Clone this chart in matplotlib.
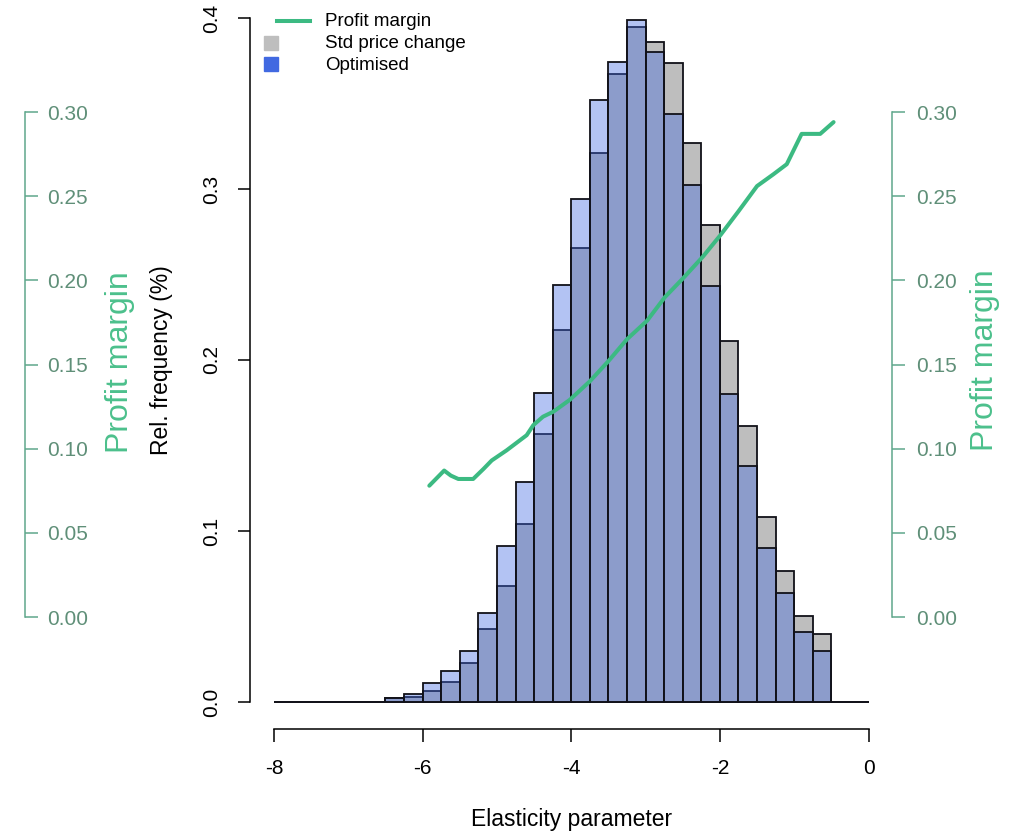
import matplotlib
matplotlib.use("Agg")
import matplotlib.pyplot as plt
import numpy as np
from matplotlib.lines import Line2D

plt.rcParams["font.family"] = ["Liberation Sans", "DejaVu Sans"]
plt.rcParams["axes.unicode_minus"] = False

# Histogram bins of the elasticity parameter (width 0.25, from -8 to 0)
bin_width = 0.25
bin_left = np.arange(-8.0, 0.0, bin_width)

# Relative frequency (density) per bin
std_price_change = [
    0, 0, 0, 0, 0, 0,
    0.0025, 0.0028, 0.0064, 0.0119, 0.0226, 0.0425, 0.068, 0.104,
    0.157, 0.2175, 0.2653, 0.321, 0.367, 0.3945, 0.386, 0.3735,
    0.3267, 0.2788, 0.2111, 0.1614, 0.1082, 0.0766, 0.0503, 0.0396,
    0, 0,
]
optimised = [
    0, 0, 0, 0, 0, 0,
    0.0025, 0.0047, 0.011, 0.018, 0.0298, 0.0519, 0.0912, 0.1286,
    0.1805, 0.2439, 0.294, 0.352, 0.3745, 0.3988, 0.380, 0.3437,
    0.3023, 0.2433, 0.180, 0.1382, 0.0902, 0.0635, 0.0411, 0.0298,
    0, 0,
]

# Profit margin against elasticity
margin_elasticity = [
    -5.91, -5.71, -5.62, -5.52, -5.32, -5.18, -5.07, -4.87, -4.69, -4.60,
    -4.51, -4.38, -4.24, -4.02, -3.75, -3.50, -3.25, -2.98, -2.74, -2.50,
    -2.23, -1.99, -1.75, -1.50, -1.28, -1.10, -0.90, -0.65, -0.47,
]
profit_margin = [
    0.078, 0.087, 0.084, 0.082, 0.082, 0.088, 0.093, 0.099, 0.105, 0.108,
    0.114, 0.119, 0.122, 0.129, 0.140, 0.152, 0.165, 0.176, 0.190, 0.201,
    0.214, 0.227, 0.241, 0.256, 0.263, 0.269, 0.287, 0.287, 0.294,
]

x_ticks = [-8, -6, -4, -2, 0]
x_tick_labels = ["-8", "-6", "-4", "-2", "0"]
y_ticks = [0.0, 0.1, 0.2, 0.3, 0.4]
y_tick_labels = ["0.0", "0.1", "0.2", "0.3", "0.4"]
pm_ticks = [0.0, 0.05, 0.10, 0.15, 0.20, 0.25, 0.30]
pm_tick_labels = ["0.00", "0.05", "0.10", "0.15", "0.20", "0.25", "0.30"]

legend_labels = ["Profit margin", "Std price change", "Optimised"]

# Colours
GREY = "#bebebe"
BLUE = "#4169e1"
BLUE_ALPHA = (65 / 255, 105 / 255, 225 / 255, 0.4)
EDGE = "#111118"
LINE_GREEN = "#3cba82"
LABEL_GREEN = "#4cc08c"
AXIS_GREEN = "#5fa78b"
TICK_GREEN = "#5f8f78"

TICK_SIZE = 15
TITLE_SIZE = 16.5
GREEN_TITLE_SIZE = 23
LEGEND_SIZE = 13.5

W, H = 1022, 835
fig = plt.figure(figsize=(W / 100, H / 100), dpi=100, facecolor="white")


def fx(px):
    return px / W


def fy(py):
    return 1 - py / H


top_px, bottom_px, left_px, right_px = -9.4, 729.4, 250.2, 892.3
ax_rect = [fx(left_px), fy(bottom_px), (right_px - left_px) / W, (bottom_px - top_px) / H]
ax = fig.add_axes(ax_rect)
ax.set_xlim(-8.32, 0.32)
ax.set_ylim(-0.016, 0.416)

ax.bar(bin_left, std_price_change, width=bin_width, align="edge",
       color=GREY, edgecolor=EDGE, linewidth=1.3, zorder=2)
ax.bar(bin_left, optimised, width=bin_width, align="edge",
       color=BLUE_ALPHA, edgecolor=EDGE, linewidth=1.3, zorder=3)

for s in ("top", "right"):
    ax.spines[s].set_visible(False)
ax.spines["left"].set_bounds(0, 0.4)
ax.spines["bottom"].set_bounds(-8, 0)
for s in ("left", "bottom"):
    ax.spines[s].set_linewidth(1.1)
ax.set_xticks(x_ticks)
ax.set_xticklabels(x_tick_labels)
ax.set_yticks(y_ticks)
ax.set_yticklabels(y_tick_labels)
ax.tick_params(axis="both", length=9, width=1.1, labelsize=TICK_SIZE, colors="black")
ax.tick_params(axis="x", pad=12)
ax.tick_params(axis="y", pad=12, labelrotation=90)
for lbl in ax.get_yticklabels():
    lbl.set_va("center")

ax.set_xlabel("Elasticity parameter", fontsize=TITLE_SIZE)
ax.xaxis.set_label_coords(0.5, -0.1226)
ax.xaxis.label.set_va("center")
ax.set_ylabel("Rel. frequency (%)", fontsize=TITLE_SIZE)
ax.yaxis.set_label_coords(-0.1374, 0.5)
ax.yaxis.label.set_va("center")

# Profit margin on a secondary scale
pm_lim = (-0.06677, 0.37212)
ax2 = ax.twinx()
ax2.set_ylim(*pm_lim)
ax2.plot(margin_elasticity, profit_margin, color=LINE_GREEN, linewidth=2.9,
         solid_capstyle="round", solid_joinstyle="round", zorder=5)
for s in ("top", "left", "bottom"):
    ax2.spines[s].set_visible(False)
ax2.spines["right"].set_bounds(0, 0.30)
ax2.spines["right"].set_color(AXIS_GREEN)
ax2.spines["right"].set_linewidth(1.1)
ax2.set_yticks(pm_ticks)
ax2.set_yticklabels(pm_tick_labels)
ax2.tick_params(axis="y", length=9, width=1.1, labelsize=TICK_SIZE, pad=8,
                color=AXIS_GREEN, labelcolor=TICK_GREEN)
ax2.set_ylabel("Profit margin", fontsize=GREEN_TITLE_SIZE, color=LABEL_GREEN)
ax2.yaxis.set_label_coords(1.1444, 0.5)
ax2.yaxis.label.set_va("center")

# Matching profit-margin axis on the far left
ax3 = fig.add_axes([fx(24), fy(bottom_px), 1 / W, (bottom_px - top_px) / H])
ax3.set_ylim(*pm_lim)
ax3.patch.set_visible(False)
for s in ("top", "left", "bottom"):
    ax3.spines[s].set_visible(False)
ax3.spines["right"].set_bounds(0, 0.30)
ax3.spines["right"].set_color(AXIS_GREEN)
ax3.spines["right"].set_linewidth(1.1)
ax3.set_xticks([])
ax3.yaxis.tick_right()
ax3.set_yticks(pm_ticks)
ax3.set_yticklabels(pm_tick_labels)
ax3.tick_params(axis="y", length=9, width=1.1, labelsize=TICK_SIZE, pad=7,
                color=AXIS_GREEN, labelcolor=TICK_GREEN)
fig.text(fx(120), fy(362), "Profit margin", rotation=90, fontsize=GREEN_TITLE_SIZE,
         color=LABEL_GREEN, ha="center", va="center")

# Legend
fig.add_artist(Line2D([fx(277), fx(310)], [fy(20.7), fy(20.7)], transform=fig.transFigure,
                      color=LINE_GREEN, linewidth=2.9))
fig.add_artist(Line2D([fx(271)], [fy(43)], transform=fig.transFigure, marker="s",
                      markersize=10, color=GREY, linestyle="none"))
fig.add_artist(Line2D([fx(271)], [fy(64)], transform=fig.transFigure, marker="s",
                      markersize=10, color=BLUE, linestyle="none"))
for label, ypx in zip(legend_labels, [22, 44, 65]):
    fig.text(fx(325), fy(ypx), label, fontsize=LEGEND_SIZE, ha="left", va="center")

fig.savefig("out.png", dpi=100, facecolor="white")
